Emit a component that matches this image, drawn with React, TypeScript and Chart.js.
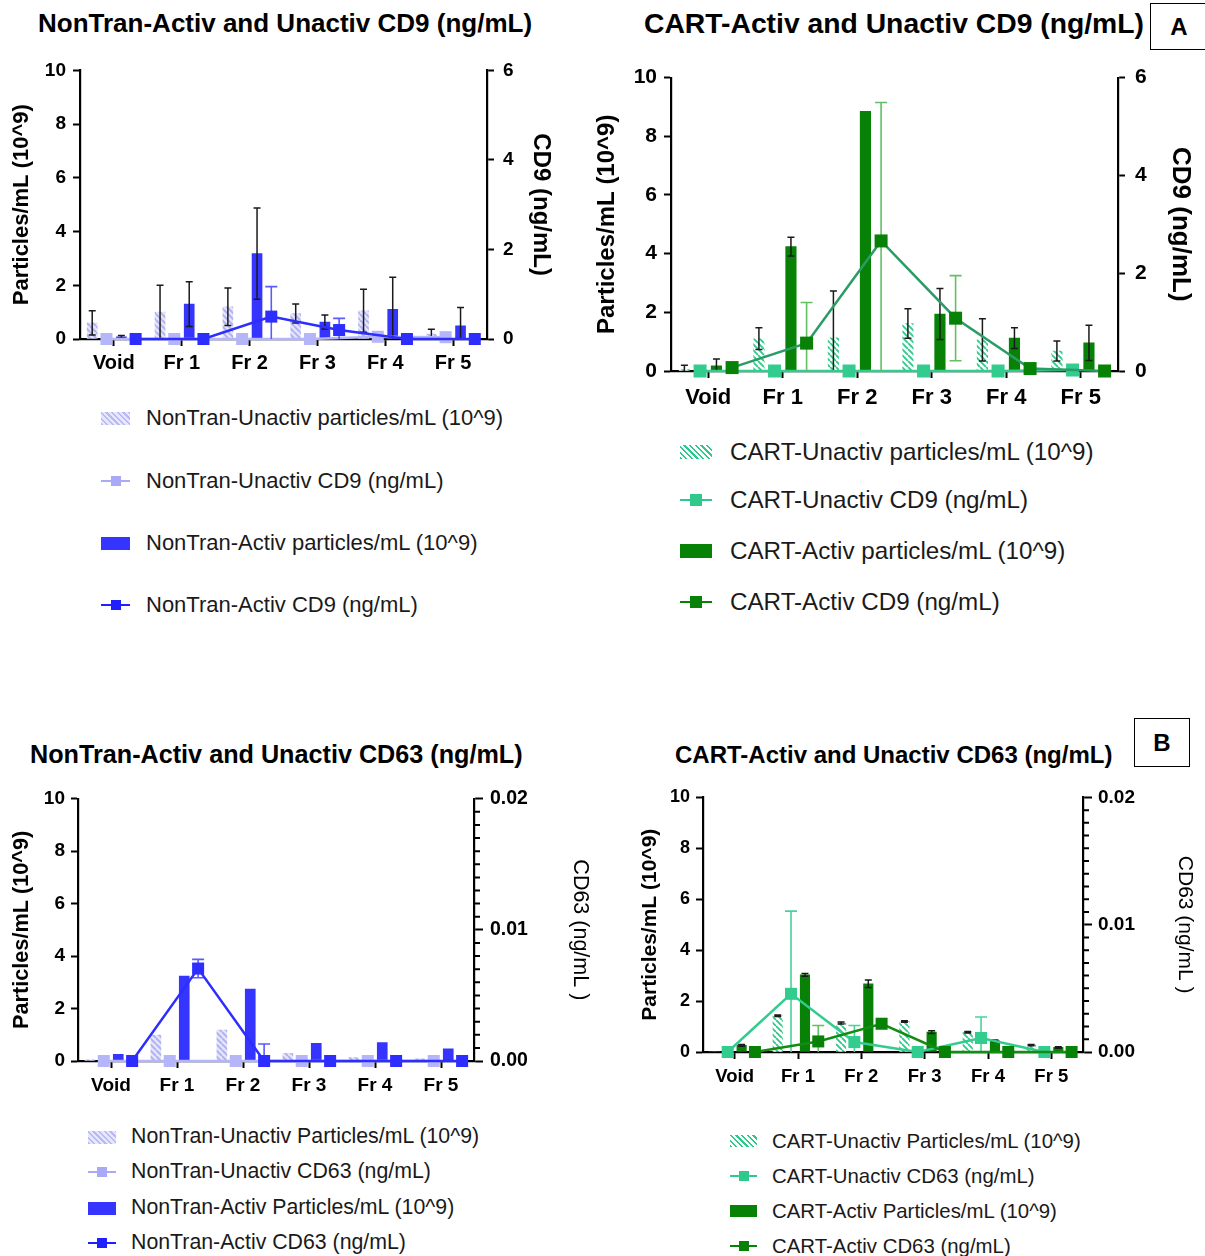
import React, { useEffect, useRef } from 'react';
import { Chart, registerables } from 'chart.js';

Chart.register(...registerables);

const FONT = "'Liberation Sans', Arial, Helvetica, sans-serif";

// ---------- shared axes ----------
const categories = ['Void', 'Fr 1', 'Fr 2', 'Fr 3', 'Fr 4', 'Fr 5'];
const particleTicks = [0, 2, 4, 6, 8, 10];
const cd9Ticks = [0, 2, 4, 6];
const cd63Ticks = [0, 0.001, 0.002, 0.003, 0.004, 0.005, 0.006, 0.007, 0.008, 0.009, 0.01,
  0.011, 0.012, 0.013, 0.014, 0.015, 0.016, 0.017, 0.018, 0.019, 0.02];
const cd63TickLabels = ['0.00', '0.01', '0.02'];

// ---------- A: NonTran CD9 ----------
const ntUnactivParticles9 = [0.6, 1.0, 1.2, 0.95, 1.05, 0.18];
const ntUnactivParticles9Err = [0.45, 1.0, 0.7, 0.35, 0.8, 0.18];
const ntUnactivCD9 = [0, 0, 0, 0, 0.05, 0.04];
const ntUnactivCD9Err = [0, 0, 0, 0, 0, 0];
const ntActivParticles9 = [0.08, 1.3, 3.18, 0.63, 1.1, 0.49];
const ntActivParticles9Err = [0.05, 0.83, 1.7, 0.26, 1.2, 0.68];
const ntActivCD9 = [0, 0, 0.5, 0.2, 0, 0];
const ntActivCD9Err = [0, 0, 0.67, 0.26, 0, 0];

// ---------- A: CART CD9 ----------
const cartUnactivParticles9 = [0.05, 1.1, 1.13, 1.62, 1.06, 0.68];
const cartUnactivParticles9Err = [0.15, 0.37, 1.6, 0.5, 0.72, 0.34];
const cartUnactivCD9 = [0, 0, 0, 0, 0, 0.02];
const cartUnactivCD9Err = [0, 0, 0, 0, 0, 0];
const cartActivParticles9 = [0.18, 4.24, 8.85, 1.94, 1.12, 0.96];
const cartActivParticles9Err = [0.23, 0.32, 0, 0.87, 0.35, 0.6];
const cartActivCD9 = [0.07, 0.57, 2.66, 1.08, 0.05, 0];
const cartActivCD9Err = [0, 0.83, 2.83, 0.87, 0, 0];

// ---------- B: NonTran CD63 ----------
const ntUnactivParticles63 = [0.04, 0.99, 1.18, 0.29, 0.13, 0.08];
const ntUnactivParticles63Err = [0, 0, 0, 0, 0, 0];
const ntUnactivCD63 = [0, 0, 0, 0, 0, 0];
const ntUnactivCD63Err = [0, 0, 0, 0, 0, 0];
const ntActivParticles63 = [0.25, 3.24, 2.74, 0.67, 0.7, 0.46];
const ntActivParticles63Err = [0, 0, 0, 0, 0, 0];
const ntActivCD63 = [0, 0.00705, 0, 0, 0, 0];
const ntActivCD63Err = [0, 0.0007, 0.0013, 0, 0, 0];

// ---------- B: CART CD63 ----------
const cartUnactivParticles63 = [0, 1.42, 1.14, 1.2, 0.78, 0.27];
const cartUnactivParticles63Err = [0, 0.03, 0.04, 0.03, 0.03, 0.02];
const cartUnactivCD63 = [0, 0.00457, 0.00078, 0, 0.0011, 0];
const cartUnactivCD63Err = [0, 0.0065, 0.0013, 0, 0.00165, 0];
const cartActivParticles63 = [0.26, 3.03, 2.68, 0.78, 0.44, 0.18];
const cartActivParticles63Err = [0.03, 0.05, 0.15, 0.05, 0.03, 0.03];
const cartActivCD63 = [0, 0.00083, 0.00222, 0, 0, 0];
const cartActivCD63Err = [0, 0.00125, 0, 0, 0, 0];

// sub-slot offsets inside a category group: unactiv bar, unactiv point, activ bar, activ point
const SLOT = [-0.32, -0.11, 0.11, 0.32];

const BLUE = {
  acBar: '#3535ff', acLine: '#2d2dff', acPoint: '#2d2dff', acErr: '#5a5aff',
  unLine: '#b5b5fa', unPoint: '#b5b5fa', unErr: '#b5b5fa',
  hatchBg: '#e3e3fc', hatchStripe: '#aeaef2',
  lgHatchBg: '#e6e6fc', lgHatchStripe: '#b8b8f4', lgUn: '#a9a9f5', lgAcBar: '#3535ff', lgAc: '#2020ff',
};
const GREEN = {
  acBar: '#078207', acLine: '#2a9c66', acPoint: '#078207', acErr: '#62bf62',
  unLine: '#33cc8f', unPoint: '#33cc8f', unErr: '#46d39c',
  hatchBg: '#ffffff', hatchStripe: '#2ec98b',
  lgHatchBg: '#ffffff', lgHatchStripe: '#2ec98b', lgUn: '#2ec98b', lgAcBar: '#078207', lgAc: '#078207',
};

const panels: any[] = [
  {
    key: 'a1',
    title: { text: 'NonTran-Activ and Unactiv CD9 (ng/mL)', left: 38, cy: 24, size: 26 },
    canvas: { left: 0, top: 50, w: 590, h: 330 },
    leftW: 80, rightW: 103, padTop: 18, bottomH: 41,
    xTick: { size: 20, pad: 5 }, yTick: { size: 19, pad: 7 }, y2Tick: { size: 19, pad: 9 },
    leftTitle: { size: 22, pad: 8.8 },
    rightTitle: { text: 'CD9 (ng/mL)', size: 24, bold: true, pad: 34.6 },
    right: 'cd9', pointR: 8.5, lineW: 2.5, barW: 10,
    colors: BLUE,
    s: {
      unP: ntUnactivParticles9, unPErr: ntUnactivParticles9Err, unL: ntUnactivCD9, unLErr: ntUnactivCD9Err,
      acP: ntActivParticles9, acPErr: ntActivParticles9Err, acL: ntActivCD9, acLErr: ntActivCD9Err,
    },
    legend: {
      labels: ['NonTran-Unactiv particles/mL (10^9)', 'NonTran-Unactiv CD9 (ng/mL)', 'NonTran-Activ particles/mL (10^9)', 'NonTran-Activ CD9 (ng/mL)'],
      swLeft: 101, swW: 29, swH: 13, sq: 10, textLeft: 146, size: 22, ys: [418, 481, 543, 605],
    },
  },
  {
    key: 'a2',
    title: { text: 'CART-Activ and Unactiv CD9 (ng/mL)', left: 644, cy: 24, size: 28.3 },
    canvas: { left: 590, top: 55, w: 615, h: 360 },
    leftW: 81, rightW: 87, padTop: 19, bottomH: 44,
    xTick: { size: 22, pad: 7 }, yTick: { size: 21, pad: 7 }, y2Tick: { size: 21, pad: 10 },
    leftTitle: { size: 24, pad: 2.6 },
    rightTitle: { text: 'CD9 (ng/mL)', size: 26, bold: true, pad: 9 },
    right: 'cd9', pointR: 9.2, lineW: 2.5, barW: 10.5,
    colors: GREEN,
    s: {
      unP: cartUnactivParticles9, unPErr: cartUnactivParticles9Err, unL: cartUnactivCD9, unLErr: cartUnactivCD9Err,
      acP: cartActivParticles9, acPErr: cartActivParticles9Err, acL: cartActivCD9, acLErr: cartActivCD9Err,
    },
    legend: {
      labels: ['CART-Unactiv particles/mL (10^9)', 'CART-Unactiv CD9 (ng/mL)', 'CART-Activ particles/mL (10^9)', 'CART-Activ CD9 (ng/mL)'],
      swLeft: 680, swW: 32, swH: 14, sq: 12, textLeft: 730, size: 24.2, ys: [452, 500, 551, 602],
    },
  },
  {
    key: 'b1',
    title: { text: 'NonTran-Activ and Unactiv CD63 (ng/mL)', left: 30, cy: 754, size: 25.2 },
    canvas: { left: 0, top: 780, w: 620, h: 320 },
    leftW: 78, rightW: 146, padTop: 18, bottomH: 39,
    xTick: { size: 19, pad: 6.5 }, yTick: { size: 19, pad: 6 }, y2Tick: { size: 19.5, pad: 7 },
    leftTitle: { size: 21.7, pad: 9 },
    rightTitle: { text: 'CD63 (ng/mL )', size: 21.5, bold: false, pad: 27 },
    right: 'cd63', pointR: 8.5, lineW: 2.5, barW: 10,
    colors: BLUE,
    s: {
      unP: ntUnactivParticles63, unPErr: ntUnactivParticles63Err, unL: ntUnactivCD63, unLErr: ntUnactivCD63Err,
      acP: ntActivParticles63, acPErr: ntActivParticles63Err, acL: ntActivCD63, acLErr: ntActivCD63Err,
    },
    legend: {
      labels: ['NonTran-Unactiv Particles/mL (10^9)', 'NonTran-Unactiv CD63 (ng/mL)', 'NonTran-Activ Particles/mL (10^9)', 'NonTran-Activ CD63 (ng/mL)'],
      swLeft: 88, swW: 28, swH: 13, sq: 10, textLeft: 131, size: 21.3, ys: [1137, 1172, 1208, 1243],
    },
  },
  {
    key: 'b2',
    title: { text: 'CART-Activ and Unactiv CD63 (ng/mL)', left: 675, cy: 755, size: 24 },
    canvas: { left: 620, top: 780, w: 585, h: 315 },
    leftW: 83, rightW: 122, padTop: 17, bottomH: 43,
    xTick: { size: 18.5, pad: 6.5 }, yTick: { size: 18, pad: 6 }, y2Tick: { size: 19, pad: 6 },
    leftTitle: { size: 21, pad: 17.4 },
    rightTitle: { text: 'CD63 (ng/mL )', size: 21, bold: false, pad: 7.4 },
    right: 'cd63', pointR: 8.5, lineW: 2.5, barW: 9.5,
    colors: { ...GREEN, acLine: '#128c12' },
    s: {
      unP: cartUnactivParticles63, unPErr: cartUnactivParticles63Err, unL: cartUnactivCD63, unLErr: cartUnactivCD63Err,
      acP: cartActivParticles63, acPErr: cartActivParticles63Err, acL: cartActivCD63, acLErr: cartActivCD63Err,
    },
    legend: {
      labels: ['CART-Unactiv Particles/mL (10^9)', 'CART-Unactiv CD63 (ng/mL)', 'CART-Activ Particles/mL (10^9)', 'CART-Activ CD63 (ng/mL)'],
      swLeft: 730, swW: 27, swH: 12, sq: 10, textLeft: 772, size: 20.4, ys: [1141, 1176, 1211, 1246],
    },
  },
];

function makeHatch(bg: string, stripe: string, size = 6, lw = 1.8) {
  const c = document.createElement('canvas');
  c.width = size;
  c.height = size;
  const g = c.getContext('2d')!;
  g.fillStyle = bg;
  g.fillRect(0, 0, size, size);
  g.strokeStyle = stripe;
  g.lineWidth = lw;
  g.beginPath();
  for (let k = -1; k <= 1; k++) {
    g.moveTo(k * size, 0);
    g.lineTo(k * size + size, size);
  }
  g.stroke();
  return g.createPattern(c, 'repeat');
}

function drawErrors(chart: any, ds: any) {
  if (!ds.errors) return;
  const { ctx, chartArea: a } = chart;
  const xs = chart.scales.x;
  const ys = chart.scales[ds.yAxisID];
  ctx.save();
  ctx.beginPath();
  ctx.rect(a.left, a.top - 6, a.right - a.left, a.bottom - a.top + 6);
  ctx.clip();
  ctx.strokeStyle = ds.errorColor;
  ctx.lineWidth = ds.errorWidth;
  ds.data.forEach((p: any, i: number) => {
    const e = ds.errors[i];
    if (!e) return;
    const x = xs.getPixelForValue(p.x);
    const y1 = ys.getPixelForValue(p.y + e);
    const y0 = ys.getPixelForValue(p.y - e);
    const c = ds.errorCap;
    ctx.beginPath();
    ctx.moveTo(x, y1);
    ctx.lineTo(x, y0);
    ctx.moveTo(x - c, y1);
    ctx.lineTo(x + c, y1);
    ctx.moveTo(x - c, y0);
    ctx.lineTo(x + c, y0);
    ctx.stroke();
  });
  ctx.restore();
}

const errorBarPlugin = {
  id: 'errorBars',
  beforeDatasetDraw(chart: any, args: any) {
    const ds = chart.data.datasets[args.index];
    if (ds.errorBehind) drawErrors(chart, ds);
  },
  afterDatasetDraw(chart: any, args: any) {
    const ds = chart.data.datasets[args.index];
    if (!ds.errorBehind) drawErrors(chart, ds);
  },
};

const isMajor63 = (v: number) => Math.round(v * 1000) % 10 === 0;

// shorter minor ticks on the CD63 axis (majors are drawn by Chart.js itself)
const minorTickPlugin = {
  id: 'minorTicks',
  afterDraw(chart: any) {
    const s = chart.scales.y2;
    if (!s || s.max > 0.1) return;
    const ctx = chart.ctx;
    ctx.save();
    ctx.strokeStyle = '#000';
    ctx.lineWidth = 2;
    ctx.beginPath();
    cd63Ticks.forEach((v) => {
      if (isMajor63(v)) return;
      const y = s.getPixelForValue(v);
      ctx.moveTo(s.left, y);
      ctx.lineTo(s.left + 6, y);
    });
    ctx.stroke();
    ctx.restore();
  },
};

function buildConfig(p: any): any {
  const c = p.colors;
  const pts = (vals: number[], slot: number) => vals.map((y, i) => ({ x: i + SLOT[slot], y }));
  const hatch = makeHatch(c.hatchBg, c.hatchStripe);
  const isCd63 = p.right === 'cd63';
  const grid = { offset: false, drawOnChartArea: false, drawTicks: true, tickLength: 7, tickColor: '#000', tickWidth: 2 };
  const border = { display: true, color: '#000', width: 2.2 };
  const tickFont = (t: any) => ({ family: FONT, size: t.size, weight: 'bold' });
  return {
    type: 'bar',
    data: {
      datasets: [
        {
          type: 'line', label: p.legend.labels[3], data: pts(p.s.acL, 3), yAxisID: 'y2', order: 0,
          borderColor: c.acLine, borderWidth: p.lineW, tension: 0,
          pointStyle: 'rect', pointRadius: p.pointR, pointBackgroundColor: c.acPoint,
          pointBorderColor: c.acPoint, pointBorderWidth: 0, clip: false,
          errors: p.s.acLErr, errorColor: c.acErr, errorWidth: 1.6, errorCap: 6, errorBehind: true,
        },
        {
          type: 'line', label: p.legend.labels[1], data: pts(p.s.unL, 1), yAxisID: 'y2', order: 1,
          borderColor: c.unLine, borderWidth: p.lineW, tension: 0,
          pointStyle: 'rect', pointRadius: p.pointR, pointBackgroundColor: c.unPoint,
          pointBorderColor: c.unPoint, pointBorderWidth: 0, clip: false,
          errors: p.s.unLErr, errorColor: c.unErr, errorWidth: 1.6, errorCap: 6, errorBehind: true,
        },
        {
          type: 'bar', label: p.legend.labels[2], data: pts(p.s.acP, 2), yAxisID: 'y', order: 2,
          backgroundColor: c.acBar, borderWidth: 0, barThickness: p.barW, grouped: false,
          errors: p.s.acPErr, errorColor: '#1a1a1a', errorWidth: 1.5, errorCap: 3.5,
        },
        {
          type: 'bar', label: p.legend.labels[0], data: pts(p.s.unP, 0), yAxisID: 'y', order: 3,
          backgroundColor: hatch, borderWidth: 0, barThickness: p.barW, grouped: false,
          errors: p.s.unPErr, errorColor: '#1a1a1a', errorWidth: 1.5, errorCap: 3.5,
        },
      ],
    },
    options: {
      responsive: false,
      animation: false,
      events: [],
      layout: { padding: { top: p.padTop, left: 0, right: 0, bottom: 0 } },
      plugins: { legend: { display: false }, tooltip: { enabled: false }, title: { display: false } },
      scales: {
        x: {
          type: 'linear', min: -0.5, max: 5.5, offset: false,
          afterBuildTicks: (s: any) => { s.ticks = categories.map((_, i) => ({ value: i })); },
          afterFit: (s: any) => { s.height = p.bottomH; },
          ticks: {
            autoSkip: false, maxRotation: 0, minRotation: 0, padding: p.xTick.pad, color: '#000',
            font: tickFont(p.xTick),
            callback: (v: number) => categories[Math.round(v)] ?? '',
          },
          grid, border,
        },
        y: {
          type: 'linear', position: 'left', min: 0, max: 10, offset: false,
          afterBuildTicks: (s: any) => { s.ticks = particleTicks.map((v) => ({ value: v })); },
          afterFit: (s: any) => { s.width = p.leftW; },
          ticks: { autoSkip: false, padding: p.yTick.pad, color: '#000', font: tickFont(p.yTick), callback: (v: number) => String(v) },
          grid, border,
          title: {
            display: true, text: 'Particles/mL (10^9)', color: '#000',
            font: { family: FONT, size: p.leftTitle.size, weight: 'bold' },
            padding: { top: p.leftTitle.pad, bottom: 0 },
          },
        },
        y2: {
          type: 'linear', position: 'right', min: 0, max: isCd63 ? 0.02 : 6, offset: false,
          afterBuildTicks: (s: any) => { s.ticks = (isCd63 ? cd63Ticks : cd9Ticks).map((v) => ({ value: v })); },
          afterFit: (s: any) => { s.width = p.rightW; },
          ticks: {
            autoSkip: false, padding: p.y2Tick.pad, color: '#000', font: tickFont(p.y2Tick),
            callback: (v: number) => {
              if (!isCd63) return String(v);
              return isMajor63(v) ? cd63TickLabels[Math.round(v * 100)] : '';
            },
          },
          grid: {
            ...grid,
            tickLength: isCd63 ? 9 : 7,
            tickColor: isCd63 ? (ctx: any) => (ctx.tick && isMajor63(ctx.tick.value) ? '#000' : 'rgba(0,0,0,0)') : '#000',
          },
          border,
          title: {
            display: true, text: p.rightTitle.text, color: '#000',
            font: { family: FONT, size: p.rightTitle.size, weight: p.rightTitle.bold ? 'bold' : 'normal' },
            padding: { top: p.rightTitle.pad, bottom: 0 },
          },
        },
      },
    },
    plugins: [errorBarPlugin, minorTickPlugin],
  };
}

function PanelChart({ p }: { p: any }) {
  const ref = useRef<HTMLCanvasElement>(null);
  useEffect(() => {
    const chart = new Chart(ref.current as HTMLCanvasElement, buildConfig(p));
    return () => chart.destroy();
  }, [p]);
  const cv = p.canvas;
  return (
    <canvas
      ref={ref}
      width={cv.w}
      height={cv.h}
      style={{ position: 'absolute', left: cv.left, top: cv.top, width: cv.w, height: cv.h }}
    />
  );
}

function Swatch({ kind, lg, cy, color, stripeBg, stripe }: any) {
  const base: any = { position: 'absolute', left: lg.swLeft, width: lg.swW };
  if (kind === 'hatch') {
    return (
      <div style={{
        ...base, top: cy - lg.swH / 2, height: lg.swH,
        background: `repeating-linear-gradient(45deg, ${stripe} 0px, ${stripe} 1.6px, ${stripeBg} 1.6px, ${stripeBg} 4px)`,
      }} />
    );
  }
  if (kind === 'bar') {
    return <div style={{ ...base, top: cy - lg.swH / 2, height: lg.swH, background: color }} />;
  }
  return (
    <div style={{ ...base, top: cy - lg.sq / 2, height: lg.sq }}>
      <div style={{ position: 'absolute', left: 0, width: lg.swW, top: lg.sq / 2 - 1, height: 2, background: color }} />
      <div style={{ position: 'absolute', left: lg.swW / 2 - lg.sq / 2, width: lg.sq, top: 0, height: lg.sq, background: color }} />
    </div>
  );
}

function Panel({ p }: { p: any }) {
  const lg = p.legend;
  const c = p.colors;
  const kinds = ['hatch', 'line', 'bar', 'line'];
  const swColors = [c.lgHatchStripe, c.lgUn, c.lgAcBar, c.lgAc];
  return (
    <>
      <div style={{
        position: 'absolute', left: p.title.left, top: p.title.cy - p.title.size * 0.6,
        fontSize: p.title.size, lineHeight: 1.2, fontWeight: 'bold', whiteSpace: 'nowrap', color: '#000',
      }}>{p.title.text}</div>
      <PanelChart p={p} />
      {lg.labels.map((t: string, i: number) => (
        <React.Fragment key={t}>
          <Swatch kind={kinds[i]} lg={lg} cy={lg.ys[i]} color={swColors[i]} stripe={c.lgHatchStripe} stripeBg={c.lgHatchBg} />
          <div style={{
            position: 'absolute', left: lg.textLeft, top: lg.ys[i] - lg.size * 0.6,
            fontSize: lg.size, lineHeight: 1.2, whiteSpace: 'nowrap', color: '#1a1a1a',
          }}>{t}</div>
        </React.Fragment>
      ))}
    </>
  );
}

function LetterBox({ text, left, top, w, h }: any) {
  return (
    <div style={{
      position: 'absolute', left, top, width: w, height: h, boxSizing: 'border-box',
      border: '1.5px solid #000', display: 'flex', alignItems: 'center', justifyContent: 'center',
      fontWeight: 'bold', fontSize: 24, color: '#000',
    }}>{text}</div>
  );
}

export default function App() {
  return (
    <div style={{
      position: 'absolute', left: 0, top: 0, width: 1205, height: 1256, background: '#fff',
      fontFamily: FONT, overflow: 'hidden',
    }}>
      {panels.map((p) => <Panel key={p.key} p={p} />)}
      <LetterBox text="A" left={1150} top={3} w={58} h={47} />
      <LetterBox text="B" left={1134} top={718} w={56} h={49} />
    </div>
  );
}
